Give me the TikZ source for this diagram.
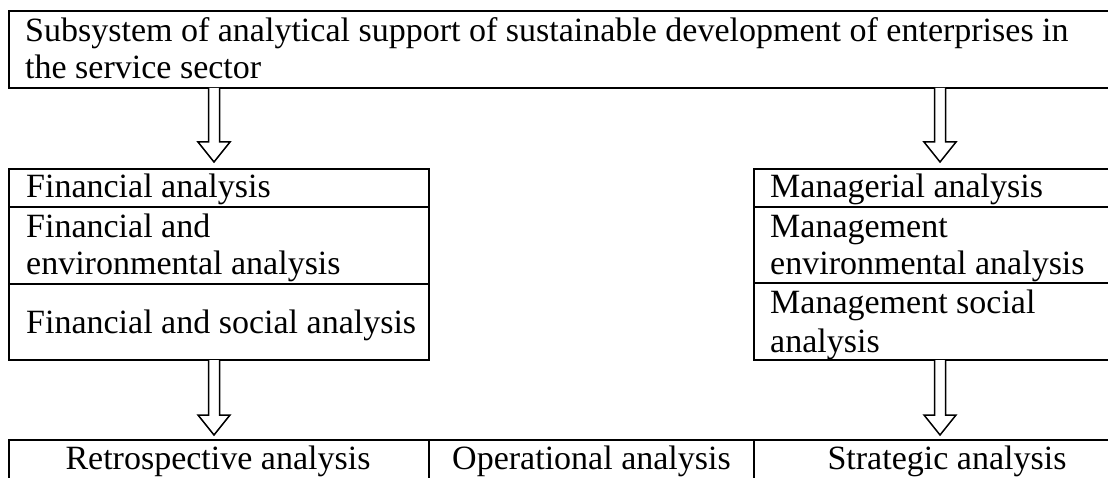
\documentclass[tikz,border=0pt]{standalone}
\usepackage{fontspec}
\setmainfont{Liberation Serif}
\usetikzlibrary{calc}
\tikzset{
  box/.style={draw, line width=1.5pt, inner sep=0pt, outer sep=0pt, anchor=north west},
  divider/.style={line width=1.5pt},
  txt/.style={anchor=base west, inner sep=0pt, font=\fontsize{34}{40}\selectfont},
  ctxt/.style={anchor=base, inner sep=0pt, font=\fontsize{34}{40}\selectfont},
  hollow/.style={draw, line width=1.5pt, fill=white, line join=miter}
}
\newcommand{\hollowarrow}[2]{%
  \draw[hollow] ($#1+(-5.5,0)$) -- ($#2+(-5.5,-20)$) -- ($#2+(-16,-20)$) -- ($#2$)
    -- ($#2+(16,-20)$) -- ($#2+(5.5,-20)$) -- ($#1+(5.5,0)$);}
\begin{document}
\begin{tikzpicture}[x=1pt,y=-1pt]
\useasboundingbox (0,0) rectangle (1108,478);
\clip (0,0) rectangle (1108,478);
\fill[white] (0,0) rectangle (1108,478);
% boxes
\node[box, minimum width=1131pt, minimum height=77pt] (top) at (9,11) {};
\node[box, minimum width=420pt, minimum height=191pt] (lbox) at (9,169) {};
\node[box, minimum width=386pt, minimum height=191pt] (rbox) at (754,169) {};
\node[box, minimum width=420pt, minimum height=60pt] (b1) at (9,440) {};
\node[box, minimum width=325pt, minimum height=60pt] (b2) at (429,440) {};
\node[box, minimum width=386pt, minimum height=60pt] (b3) at (754,440) {};
% dividers
\draw[divider] ($(lbox.north west)+(0,38)$) -- ($(lbox.north east)+(0,38)$);
\draw[divider] ($(lbox.north west)+(0,115)$) -- ($(lbox.north east)+(0,115)$);
\draw[divider] ($(rbox.north west)+(0,38)$) -- ($(rbox.north east)+(0,38)$);
\draw[divider] ($(rbox.north west)+(0,114)$) -- ($(rbox.north east)+(0,114)$);
% texts
\node[txt] (t1) at (25,42) {Subsystem of analytical support of sustainable development of enterprises in};
\node[txt] (t2) at (25,79) {the service sector};
\node[txt] (l1) at (26,198) {Financial analysis};
\node[txt] (l2) at (26,238) {Financial and};
\node[txt] (l3) at (26,275) {environmental analysis};
\node[txt] (l4) at (26,333) {Financial and social analysis};
\node[txt] (r1) at (770,198) {Managerial analysis};
\node[txt] (r2) at (770,238) {Management};
\node[txt] (r3) at (770,275) {environmental analysis};
\node[txt] (r4) at (770,313) {Management social};
\node[txt] (r5) at (770,352) {analysis};
\node[ctxt] (bt1) at (218,469) {Retrospective analysis};
\node[ctxt] (bt2) at (591.5,469) {Operational analysis};
\node[ctxt] (bt3) at (947,469) {Strategic analysis};
% arrows
\hollowarrow{(top.south west)+(205,0)}{(lbox.north west)+(205,-7)}
\hollowarrow{(top.south west)+(931,0)}{(rbox.north west)+(186,-7)}
\hollowarrow{(lbox.south west)+(205,0)}{(b1.north west)+(205,-5)}
\hollowarrow{(rbox.south west)+(186,0)}{(b3.north west)+(186,-5)}
\end{tikzpicture}
\end{document}
